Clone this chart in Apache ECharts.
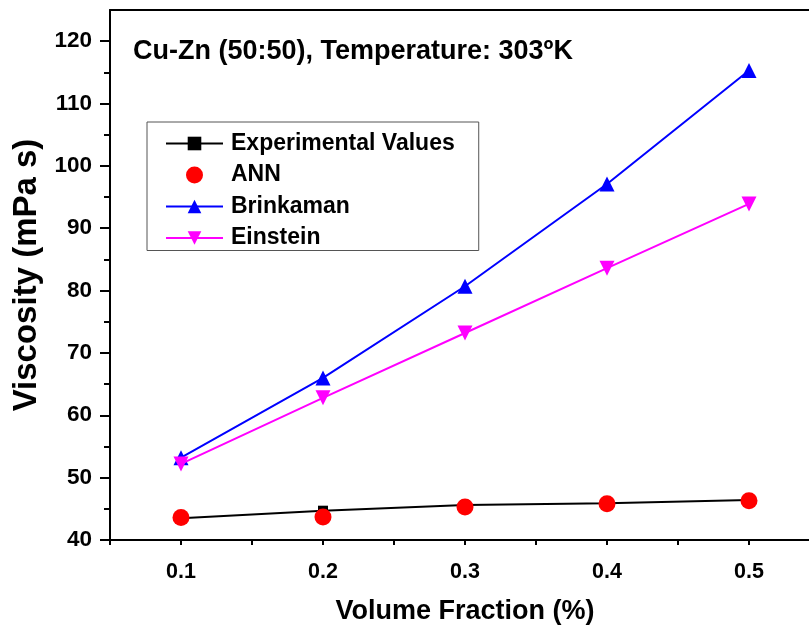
<!DOCTYPE html>
<html><head><meta charset="utf-8">
<script src="https://cdn.jsdelivr.net/npm/echarts@6/dist/echarts.min.js"></script>
<style>html,body{margin:0;padding:0;background:#fff}#c{width:809px;height:631px}</style>
</head><body><div id="c"></div>
<script>
const volumeFraction = [0.1, 0.2, 0.3, 0.4, 0.5];
const experimental = [43.5, 44.7, 45.6, 45.9, 46.4];
const ann = [43.6, 43.7, 45.3, 45.8, 46.3];
const brinkaman = [53.2, 66.0, 80.7, 97.1, 115.3];
const einstein = [52.2, 62.8, 73.2, 83.6, 93.9];
const yTickLabels = [40, 50, 60, 70, 80, 90, 100, 110, 120];

const pair = arr => volumeFraction.map((x, i) => [x, arr[i]]);
const FONT = '"Liberation Sans", Arial, sans-serif';
const chart = echarts.init(document.getElementById('c'));
chart.setOption({
  animation: false,
  backgroundColor: '#fff',
  textStyle: { fontFamily: FONT },
  title: {
    text: 'Cu-Zn (50:50), Temperature: 303ºK',
    left: 128, top: 33,
    textStyle: { fontFamily: FONT, fontWeight: 'bold', fontSize: 27, color: '#000' }
  },
  legend: {
    orient: 'vertical', left: 147, top: 122,
    padding: [10, 24, 1, 18],
    borderColor: '#555', borderWidth: 1,
    itemWidth: 57, itemHeight: 17, itemGap: 8.5,
    textStyle: { fontFamily: FONT, fontWeight: 'bold', fontSize: 23, color: '#000', padding: [0, 0, 0, 3] },
    data: ['Experimental Values', 'ANN', 'Brinkaman', 'Einstein']
  },
  grid: { left: 110, top: 10, width: 710, height: 530, containLabel: false, outerBoundsMode: 'none' },
  xAxis: [{
    type: 'value', min: 0.05, max: 0.55, interval: 0.05,
    name: 'Volume Fraction (%)', nameLocation: 'middle', nameGap: 58,
    nameTextStyle: { fontFamily: FONT, fontWeight: 'bold', fontSize: 27, color: '#000' },
    axisLine: { lineStyle: { color: '#000', width: 2 } },
    axisTick: { show: true, inside: false, length: 5, lineStyle: { color: '#000', width: 2 } },
    splitLine: { show: false },
    axisLabel: {
      margin: 21, fontFamily: FONT, fontWeight: 'bold', fontSize: 21.5, color: '#000',
      formatter: v => {
        const k = Math.round(v * 100);
        return (k % 10 === 0 && volumeFraction.some(x => Math.round(x * 100) === k)) ? (k / 100).toFixed(1) : '';
      }
    }
  }, {
    type: 'value', position: 'top', min: 0.05, max: 0.55,
    axisLine: { show: true, lineStyle: { color: '#000', width: 2 } },
    axisTick: { show: false }, axisLabel: { show: false }, splitLine: { show: false }
  }],
  yAxis: {
    type: 'value', min: 40, max: 125, interval: 10,
    name: 'Viscosity (mPa s)', nameLocation: 'middle', nameGap: 67,
    nameTextStyle: { fontFamily: FONT, fontWeight: 'bold', fontSize: 33, color: '#000' },
    axisLine: { show: true, lineStyle: { color: '#000', width: 2 } },
    axisTick: { show: true, length: 10, customValues: yTickLabels, lineStyle: { color: '#000', width: 2 } },
    minorTick: { show: true, splitNumber: 2, length: 6, lineStyle: { color: '#000', width: 2 } },
    splitLine: { show: false },
    axisLabel: {
      margin: 18, fontFamily: FONT, fontWeight: 'bold', fontSize: 22.5, color: '#000',
      customValues: yTickLabels
    }
  },
  series: [
    { name: 'Experimental Values', type: 'line', data: pair(experimental), z: 2,
      symbol: 'rect', symbolSize: 10, itemStyle: { color: '#000' },
      lineStyle: { color: '#000', width: 2 } },
    { name: 'ANN', type: 'scatter', data: pair(ann), z: 6,
      symbol: 'circle', symbolSize: 17, itemStyle: { color: '#ff0000', opacity: 1 } },
    { name: 'Brinkaman', type: 'line', data: pair(brinkaman), z: 3,
      symbol: 'triangle', symbolSize: 15, itemStyle: { color: '#0000ff' },
      lineStyle: { color: '#0000ff', width: 2 } },
    { name: 'Einstein', type: 'line', data: pair(einstein), z: 4,
      symbol: 'triangle', symbolRotate: 180, symbolSize: 15, itemStyle: { color: '#ff00ff' },
      lineStyle: { color: '#ff00ff', width: 2 } }
  ]
});
</script></body></html>
